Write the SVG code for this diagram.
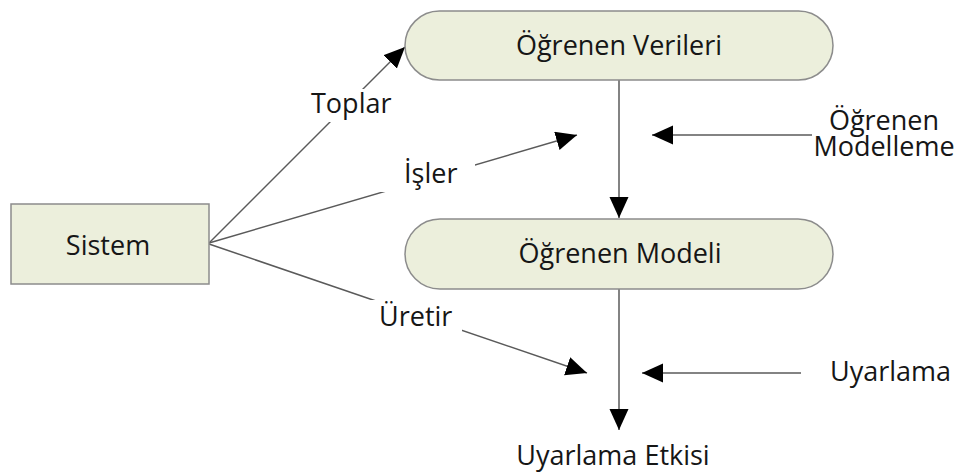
<svg xmlns="http://www.w3.org/2000/svg" width="959" height="473" viewBox="0 0 959 473">
<style>
.node{fill:#ECEFDC;stroke:#8C8C8C;stroke-width:1.5}
.t{font-family:"Open Sans","DejaVu Sans",sans-serif;font-size:27px;fill:#161616}
.c{text-anchor:middle}
.ln{stroke:#5A5A5A;stroke-width:1.5;fill:none;marker-end:url(#ah)}
.mask{fill:#FFFFFF}
</style>
<defs>
<marker id="ah" markerUnits="userSpaceOnUse" markerWidth="22" markerHeight="20" refX="21" refY="9.5" orient="auto" viewBox="0 0 22 20">
<path d="M0,0 L21,9.5 L0,19 z" fill="#000"/>
</marker>
</defs>
<rect width="959" height="473" fill="#FFFFFF"/>
<g id="connectors">
<line class="ln" x1="209" y1="243" x2="405" y2="47"/>
<line class="ln" x1="209" y1="243" x2="577" y2="135"/>
<line class="ln" x1="209" y1="244" x2="587" y2="373"/>
<line class="ln" x1="619" y1="80" x2="619" y2="218"/>
<line class="ln" x1="619" y1="289" x2="619" y2="430"/>
<line class="ln" x1="812" y1="135" x2="652" y2="135"/>
<line class="ln" x1="801" y1="373" x2="642" y2="373"/>
<rect class="mask" x="282" y="89" width="108" height="33"/>
<text class="t" x="311" y="113">Toplar</text>
<rect class="mask" x="337" y="158" width="138" height="34"/>
<text class="t" x="404" y="183">İşler</text>
<rect class="mask" x="322" y="300" width="140" height="32"/>
<text class="t" x="379" y="326">Üretir</text>
</g>
<g id="sistem">
<rect class="node" x="11" y="204" width="198" height="80"/>
<text class="t c" x="108" y="255">Sistem</text>
</g>
<g id="ogrenen-verileri">
<rect class="node" x="405" y="11" width="428" height="69" rx="34.5" ry="34.5"/>
<text class="t c" x="619" y="55">Öğrenen Verileri</text>
</g>
<g id="ogrenen-modeli">
<rect class="node" x="405" y="219" width="428" height="70" rx="35" ry="35"/>
<text class="t c" x="620" y="263">Öğrenen Modeli</text>
</g>
<g id="ogrenen-modelleme">
<text class="t c" x="884" y="130">Öğrenen</text>
<text class="t c" x="884" y="156">Modelleme</text>
</g>
<g id="uyarlama">
<text class="t" x="830" y="381">Uyarlama</text>
</g>
<g id="uyarlama-etkisi">
<text class="t c" x="613" y="465">Uyarlama Etkisi</text>
</g>
</svg>
